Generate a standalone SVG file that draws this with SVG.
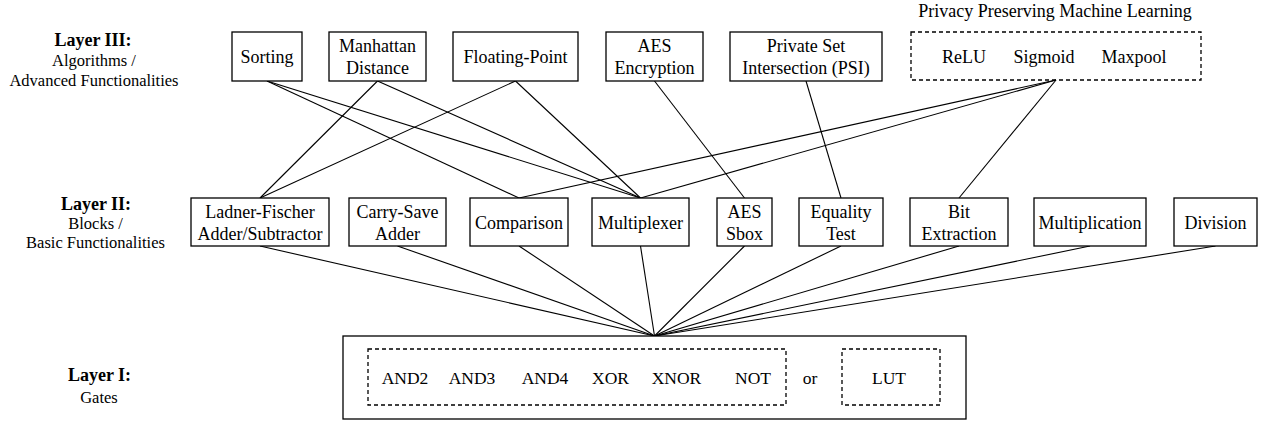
<svg xmlns="http://www.w3.org/2000/svg" width="1265" height="424" viewBox="0 0 1265 424">
<style>
text{font-family:"Liberation Serif","Times New Roman",serif;font-size:18px;fill:#000;text-anchor:middle}
.lbl{font-weight:bold}
.sub{font-size:16.5px}
.gate{font-size:17.5px}
.box{fill:#fff;stroke:#000;stroke-width:1.3}
.dash{fill:none;stroke:#000;stroke-width:1.3;stroke-dasharray:4,3}
.edge{stroke:#000;stroke-width:1.1;fill:none}
</style>
<rect width="1265" height="424" fill="#fff"/>
<g id="layer-labels">
<text class="lbl" x="93" y="45.5">Layer III:</text>
<text class="sub" x="94" y="65.5">Algorithms /</text>
<text class="sub" x="94" y="85.5">Advanced Functionalities</text>
<text class="lbl" x="96" y="209.5">Layer II:</text>
<text class="sub" x="95.5" y="229">Blocks /</text>
<text class="sub" x="95.5" y="248">Basic Functionalities</text>
<text class="lbl" x="99.5" y="381">Layer I:</text>
<text class="sub" x="99" y="403">Gates</text>
</g>
<g id="connectors">
<line class="edge" x1="267" y1="81" x2="519" y2="198"/>
<line class="edge" x1="267" y1="81" x2="640.5" y2="198"/>
<line class="edge" x1="377.5" y1="81" x2="260" y2="198"/>
<line class="edge" x1="377.5" y1="81" x2="640.5" y2="198"/>
<line class="edge" x1="515.5" y1="81" x2="260" y2="198"/>
<line class="edge" x1="515.5" y1="81" x2="640.5" y2="198"/>
<line class="edge" x1="654.5" y1="81" x2="744.5" y2="198"/>
<line class="edge" x1="806" y1="81" x2="841" y2="198"/>
<line class="edge" x1="1056" y1="80" x2="519" y2="198"/>
<line class="edge" x1="1056" y1="80" x2="640.5" y2="198"/>
<line class="edge" x1="1056" y1="80" x2="959" y2="198"/>
<line class="edge" x1="260" y1="246" x2="654.5" y2="336"/>
<line class="edge" x1="397.5" y1="246" x2="654.5" y2="336"/>
<line class="edge" x1="519" y1="246" x2="654.5" y2="336"/>
<line class="edge" x1="640.5" y1="246" x2="654.5" y2="336"/>
<line class="edge" x1="744.5" y1="246" x2="654.5" y2="336"/>
<line class="edge" x1="841" y1="246" x2="654.5" y2="336"/>
<line class="edge" x1="959" y1="246" x2="654.5" y2="336"/>
<line class="edge" x1="1090" y1="246" x2="654.5" y2="336"/>
<line class="edge" x1="1215.5" y1="246" x2="654.5" y2="336"/>
</g>
<g id="sorting"><rect class="box" x="232" y="32" width="70" height="49"/><text x="267" y="63">Sorting</text></g>
<g id="manhattan"><rect class="box" x="329" y="32" width="97" height="49"/><text x="377.5" y="52">Manhattan</text><text x="377.5" y="74">Distance</text></g>
<g id="floating"><rect class="box" x="453" y="32" width="125" height="49"/><text x="515.5" y="63">Floating-Point</text></g>
<g id="aes-enc"><rect class="box" x="606" y="32" width="97" height="49"/><text x="654.5" y="52">AES</text><text x="654.5" y="73.5">Encryption</text></g>
<g id="psi"><rect class="box" x="730" y="32" width="152" height="49"/><text x="806" y="52">Private Set</text><text x="806" y="73.5">Intersection (PSI)</text></g>
<g id="ppml"><text x="1055" y="17">Privacy Preserving Machine Learning</text><rect class="dash" x="911" y="32" width="290" height="48"/><text x="964" y="63">ReLU</text><text x="1044" y="63">Sigmoid</text><text x="1134" y="63">Maxpool</text></g>
<g id="ladner"><rect class="box" x="191" y="198" width="138" height="48"/><text x="260" y="217.5">Ladner-Fischer</text><text x="260" y="239.5">Adder/Subtractor</text></g>
<g id="carry-save"><rect class="box" x="349" y="198" width="97" height="48"/><text x="397.5" y="217.5">Carry-Save</text><text x="397.5" y="239.5">Adder</text></g>
<g id="comparison"><rect class="box" x="470" y="198" width="98" height="48"/><text x="519" y="229">Comparison</text></g>
<g id="multiplexer"><rect class="box" x="592" y="198" width="97" height="48"/><text x="640.5" y="229">Multiplexer</text></g>
<g id="aes-sbox"><rect class="box" x="717" y="198" width="55" height="48"/><text x="744.5" y="217.5">AES</text><text x="744.5" y="239.5">Sbox</text></g>
<g id="equality"><rect class="box" x="799" y="198" width="84" height="48"/><text x="841" y="217.5">Equality</text><text x="841" y="239.5">Test</text></g>
<g id="bit-extraction"><rect class="box" x="910" y="198" width="98" height="48"/><text x="959" y="217.5">Bit</text><text x="959" y="239.5">Extraction</text></g>
<g id="multiplication"><rect class="box" x="1034" y="198" width="112" height="48"/><text x="1090" y="229">Multiplication</text></g>
<g id="division"><rect class="box" x="1174" y="198" width="83" height="48"/><text x="1215.5" y="229">Division</text></g>
<g id="gates">
<rect class="box" x="343" y="336" width="623" height="83"/>
<rect class="dash" x="368" y="349" width="418" height="56"/>
<text class="gate" x="405" y="384">AND2</text>
<text class="gate" x="472" y="384">AND3</text>
<text class="gate" x="545" y="384">AND4</text>
<text class="gate" x="610.5" y="384">XOR</text>
<text class="gate" x="676.5" y="384">XNOR</text>
<text class="gate" x="753" y="384">NOT</text>
<text class="gate" x="810" y="384">or</text>
<rect class="dash" x="842" y="349" width="98" height="56"/>
<text class="gate" x="889" y="384">LUT</text>
</g>
</svg>
